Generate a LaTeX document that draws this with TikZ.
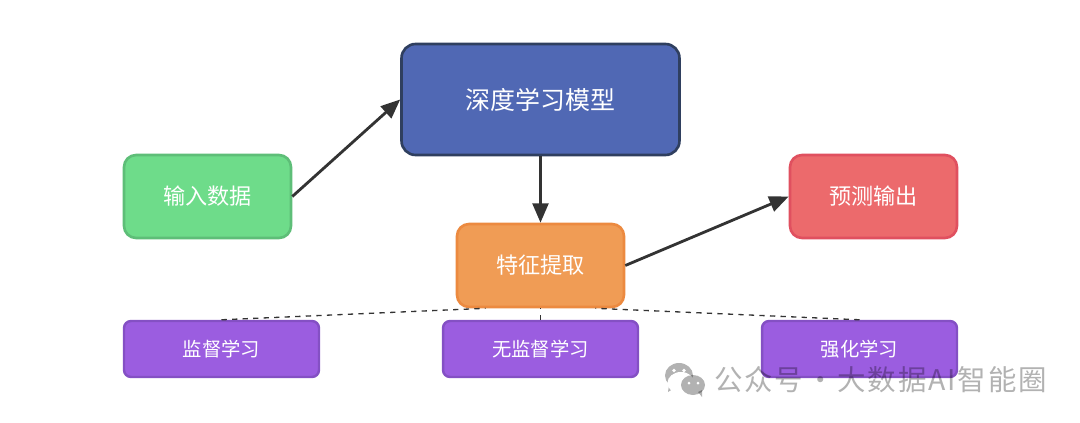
\documentclass[tikz,border=0pt]{standalone}
\usepackage{fontspec}
\usepackage{xcolor}
\setmainfont{Noto Sans CJK SC}
\newfontfamily\wmfont[LetterSpace=6.5]{Noto Sans CJK SC}
\usetikzlibrary{arrows.meta,calc,positioning}
\definecolor{inputfill}{HTML}{6EDC8A}
\definecolor{inputline}{HTML}{5EBE78}
\definecolor{modelfill}{HTML}{5068B4}
\definecolor{modelline}{HTML}{2F3F5F}
\definecolor{featfill}{HTML}{F09C55}
\definecolor{featline}{HTML}{EC8A40}
\definecolor{outfill}{HTML}{EC6A6C}
\definecolor{outline}{HTML}{E0505F}
\definecolor{learnfill}{HTML}{9B5DE0}
\definecolor{learnline}{HTML}{8450C4}
\definecolor{linkcol}{HTML}{333333}
\tikzset{
  midbox/.style={draw,line width=1.5pt,rounded corners=0.24cm,text=white,font=\fontsize{12.6}{15}\selectfont,
    minimum width=3.34cm,minimum height=1.66cm,inner sep=0pt},
  learnbox/.style={draw=learnline,fill=learnfill,line width=1.4pt,rounded corners=0.14cm,text=white,font=\fontsize{11}{13}\selectfont,
    minimum width=3.9cm,minimum height=1.12cm,inner sep=0pt},
  flow/.style={draw=linkcol,line width=1.6pt,-{Triangle[length=11pt,width=9pt]}},
  branch/.style={draw=linkcol,line width=0.75pt,dashed},
}
\begin{document}
\begin{tikzpicture}[x=0.02cm,y=-0.02cm]
  \useasboundingbox (0,0) rectangle (1080,423);
  % boxes
  \node[midbox,draw=inputline,fill=inputfill] (input) at (207.5,196.5) {输入数据};
  \node[midbox,draw=modelline,fill=modelfill,rounded corners=0.28cm,minimum width=5.56cm,minimum height=2.22cm,
    font=\fontsize{14.2}{17}\selectfont] (model) at (540.5,99.5) {深度学习模型};
  \node[midbox,draw=featline,fill=featfill] (feat) at (540.5,265.5) {特征提取};
  \node[midbox,draw=outline,fill=outfill] (out) at (873.5,196.5) {预测输出};
  \node[learnbox] (sup) at (221.5,349) {监督学习};
  \node[learnbox] (unsup) at (540.5,349) {无监督学习};
  \node[learnbox] (rein) at (859.5,349) {强化学习};
  % main flow
  \draw[flow] (input.east) -- (model.west);
  \draw[flow] (model.south) -- (feat.north);
  \draw[flow] (feat.east) -- (out.west);
  % dashed branches
  \coordinate (featL) at ($(feat.south)+(-55,0)$);
  \coordinate (featR) at ($(feat.south)+(55,0)$);
  \draw[branch] (sup.north) -- (featL);
  \draw[branch] (unsup.north) -- (feat.south);
  \draw[branch] (rein.north) -- (featR);
  % watermark
  \begin{scope}[black,opacity=0.3]
    \fill (679,375.5) ellipse [x radius=14,y radius=12.5];
    \fill (669,385) -- (668,392) -- (676,387) -- cycle;
  \end{scope}
  \fill[white] (681,383) ellipse [x radius=13.5,y radius=11];
  \begin{scope}[black,opacity=0.3]
    \fill (693,385) ellipse [x radius=12,y radius=10];
    \fill (698,392) -- (702,397) -- (702,390) -- cycle;
  \end{scope}
  \fill[white] (674,370.5) circle [radius=1.8];
  \fill[white] (684,370.5) circle [radius=1.8];
  \fill[white] (689,383) circle [radius=1.5];
  \fill[white] (698,383) circle [radius=1.5];
  \node[text=black,text opacity=0.3,font=\wmfont\fontsize{16.2}{18}\selectfont,anchor=west,inner sep=0pt] (mark) at (714,380) {公众号\hspace{0.1em}·\hspace{0.1em}大数据AI智能圈};
\end{tikzpicture}
\end{document}
